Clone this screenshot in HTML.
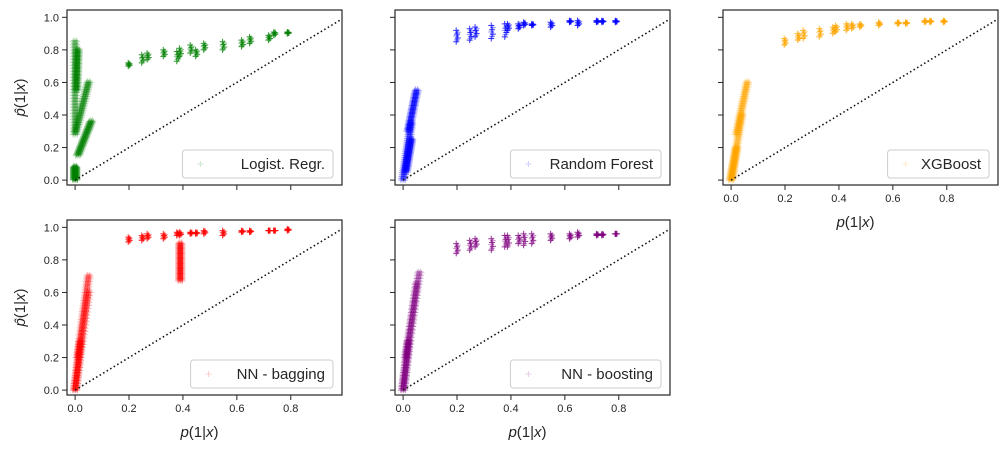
<!DOCTYPE html>
<html><head><meta charset="utf-8">
<style>
body{margin:0;background:#fff;}
svg{display:block;font-family:"Liberation Sans","DejaVu Sans",sans-serif;}
</style></head>
<body>
<svg id="chart" width="1007" height="454" viewBox="0 0 1007 454"></svg>
<script>
// shared true-probability positions for the upper clusters
const topX = [0.20,0.25,0.27,0.33,0.38,0.39,0.43,0.45,0.48,0.55,0.62,0.65,0.72,0.74,0.79];
// per-model estimated probability ranges at topX
const lrTopLo = [0.70,0.72,0.74,0.76,0.73,0.76,0.78,0.76,0.80,0.80,0.82,0.84,0.86,0.89,0.90];
const lrTopHi = [0.72,0.77,0.78,0.80,0.79,0.81,0.83,0.80,0.84,0.85,0.86,0.88,0.89,0.91,0.91];
const rfTopLo = [0.85,0.86,0.88,0.87,0.88,0.92,0.93,0.95,0.95,0.94,0.97,0.95,0.97,0.97,0.97];
const rfTopHi = [0.92,0.93,0.94,0.95,0.96,0.96,0.96,0.97,0.96,0.97,0.98,0.98,0.98,0.98,0.98];
const xgTopLo = [0.83,0.86,0.87,0.88,0.90,0.91,0.92,0.93,0.94,0.95,0.96,0.96,0.97,0.97,0.97];
const xgTopHi = [0.87,0.90,0.92,0.93,0.94,0.95,0.96,0.96,0.96,0.97,0.97,0.97,0.98,0.98,0.98];
const nbTopLo = [0.91,0.92,0.93,0.93,0.95,0.95,0.96,0.96,0.96,0.95,0.97,0.97,0.98,0.98,0.98];
const nbTopHi = [0.94,0.95,0.96,0.96,0.97,0.97,0.97,0.97,0.98,0.98,0.98,0.98,0.98,0.98,0.99];
const bsTopLo = [0.84,0.86,0.88,0.86,0.88,0.88,0.90,0.89,0.90,0.92,0.93,0.94,0.95,0.95,0.96];
const bsTopHi = [0.90,0.92,0.93,0.93,0.95,0.95,0.95,0.96,0.96,0.96,0.96,0.97,0.96,0.96,0.96];
// low-probability clusters: segments (x0,y0)->(x1,y1)
const lrSegX0=[0.00,0.00,0.01,0.00,0.005]; const lrSegY0=[0.30,0.28,0.15,0.00,0.55];
const lrSegX1=[0.00,0.05,0.06,0.00,0.01];  const lrSegY1=[0.85,0.60,0.36,0.08,0.80];
const rfSegX0=[0.00,0.02,0.01]; const rfSegY0=[0.00,0.30,0.05];
const rfSegX1=[0.03,0.05,0.03]; const rfSegY1=[0.35,0.55,0.25];
const xgSegX0=[0.00,0.02,0.00]; const xgSegY0=[0.00,0.28,0.00];
const xgSegX1=[0.04,0.06,0.02]; const xgSegY1=[0.40,0.60,0.20];
const nbSegX0=[0.00,0.01,0.39,0.00]; const nbSegY0=[0.00,0.20,0.67,0.00];
const nbSegX1=[0.05,0.05,0.39,0.02]; const nbSegY1=[0.60,0.70,0.90,0.30];
const bsSegX0=[0.00,0.01,0.00]; const bsSegY0=[0.00,0.20,0.00];
const bsSegX1=[0.05,0.06,0.02]; const bsSegY1=[0.65,0.72,0.30];

const models=[
 {name:'Logist. Regr.',color:'green',col:0,row:0,lo:lrTopLo,hi:lrTopHi,sx0:lrSegX0,sy0:lrSegY0,sx1:lrSegX1,sy1:lrSegY1,xt:false,yt:true},
 {name:'Random Forest',color:'blue',col:1,row:0,lo:rfTopLo,hi:rfTopHi,sx0:rfSegX0,sy0:rfSegY0,sx1:rfSegX1,sy1:rfSegY1,xt:false,yt:false},
 {name:'XGBoost',color:'orange',col:2,row:0,lo:xgTopLo,hi:xgTopHi,sx0:xgSegX0,sy0:xgSegY0,sx1:xgSegX1,sy1:xgSegY1,xt:true,yt:false},
 {name:'NN - bagging',color:'red',col:0,row:1,lo:nbTopLo,hi:nbTopHi,sx0:nbSegX0,sy0:nbSegY0,sx1:nbSegX1,sy1:nbSegY1,xt:true,yt:true},
 {name:'NN - boosting',color:'purple',col:1,row:1,lo:bsTopLo,hi:bsTopHi,sx0:bsSegX0,sy0:bsSegY0,sx1:bsSegX1,sy1:bsSegY1,xt:true,yt:false}
];
const xTicks=[0,0.2,0.4,0.6,0.8]; const xTickLabels=['0.0','0.2','0.4','0.6','0.8'];
const yTicks=[0,0.2,0.4,0.6,0.8,1.0]; const yTickLabels=['0.0','0.2','0.4','0.6','0.8','1.0'];

const NS='http://www.w3.org/2000/svg';
const svg=document.getElementById('chart');
function mk(tag,attrs,parent){const e=document.createElementNS(NS,tag);for(const k in attrs)e.setAttribute(k,attrs[k]);(parent||svg).appendChild(e);return e;}
const W=275,H=175,XMIN=-0.03,XMAX=0.99,YMIN=-0.03,YMAX=1.045;
const spread=[-0.008,-0.004,0,0.004,0.008];

models.forEach((m,mi)=>{
  const L=67+328*m.col, T=10+210*m.row;
  const sx=v=>L+(v-XMIN)/(XMAX-XMIN)*W;
  const sy=v=>T+(YMAX-v)/(YMAX-YMIN)*H;
  const g=mk('g',{});
  
  
  const pts=mk('g',{stroke:m.color,'stroke-width':1,fill:'none'},g);
  
  
  function plus(x,y,op){
    const px=sx(x),py=sy(y);
    const p=mk('path',{d:`M${px-3},${py}h6M${px},${py-3}v6`,'stroke-opacity':op},pts);
    
    
  }
  // low clusters
  for(let s=0;s<m.sx0.length;s++){
    const n=30;
    for(let i=0;i<=n;i++){
      const t=i/n;
      const x=m.sx0[s]+(m.sx1[s]-m.sx0[s])*t;
      const y=m.sy0[s]+(m.sy1[s]-m.sy0[s])*t;
      spread.forEach((dx,k)=>plus(x+dx,y+((k%2)?0.008:0),0.3));
    }
  }
  // upper clusters
  for(let i=0;i<topX.length;i++){
    const n=6;
    for(let k=0;k<=n;k++){
      const y=m.lo[i]+(m.hi[i]-m.lo[i])*k/n;
      plus(topX[i]+((k%3)-1)*0.003,y,k%2?0.45:0.8);
    }
  }
  // diagonal
  const d=mk('line',{x1:sx(0),y1:sy(0),x2:sx(XMAX),y2:sy(XMAX),stroke:'#111','stroke-width':1.6,'stroke-dasharray':'1.5,2.6'},g);
  
  
  // frame
  const fr=mk('rect',{x:L,y:T,width:W,height:H,fill:'none',stroke:'#262626','stroke-width':1.2},g);
  
  
  // ticks
  xTicks.forEach((v,i)=>{
    const t=mk('line',{x1:sx(v),x2:sx(v),y1:T+H,y2:T+H+5,stroke:'#262626','stroke-width':1},g);
    
    
    if(m.xt){
      const tl=mk('text',{x:sx(v),y:T+H+17,'text-anchor':'middle','font-size':11,fill:'#262626'},g);
      tl.textContent=xTickLabels[i];
      
      
    }
  });
  yTicks.forEach((v,i)=>{
    const t=mk('line',{x1:L-5,x2:L,y1:sy(v),y2:sy(v),stroke:'#262626','stroke-width':1},g);
    
    
    if(m.yt){
      const tl=mk('text',{x:L-8,y:sy(v)+4,'text-anchor':'end','font-size':11,fill:'#262626'},g);
      tl.textContent=yTickLabels[i];
      
      
    }
  });
  if(m.xt){
    const xl=mk('text',{x:L+W/2-5,y:T+H+42,'text-anchor':'middle','font-size':15,fill:'#262626'},g);
    xl.innerHTML='<tspan font-style="italic">p</tspan>(1|<tspan font-style="italic">x</tspan>)';
    
    
  }
  if(m.yt){
    const yl=mk('text',{x:0,y:0,transform:`translate(${L-42},${T+H/2}) rotate(-90)`,'text-anchor':'middle','font-size':15,fill:'#262626'},g);
    yl.innerHTML='<tspan font-style="italic">p̂</tspan>(1|<tspan font-style="italic">x</tspan>)';
    
    
  }
  // legend
  const lw=m.name.length*8.2+44;
  const lg=mk('g',{},g);
  
  
  mk('rect',{x:L+W-9-lw,y:T+H-35,width:lw,height:28,rx:3,fill:'#fff','fill-opacity':0.8,stroke:'#ccc','stroke-width':1},lg);
  const lx=L+W-9-lw+18, ly=T+H-21;
  mk('path',{d:`M${lx-3},${ly}h6M${lx},${ly-3}v6`,stroke:m.color,'stroke-opacity':0.2,'stroke-width':1},lg);
  const lt=mk('text',{x:L+W-17,y:T+H-16,'text-anchor':'end','font-size':15,fill:'#262626'},lg);
  lt.textContent=m.name;
  
  
});
</script>
</body></html>
